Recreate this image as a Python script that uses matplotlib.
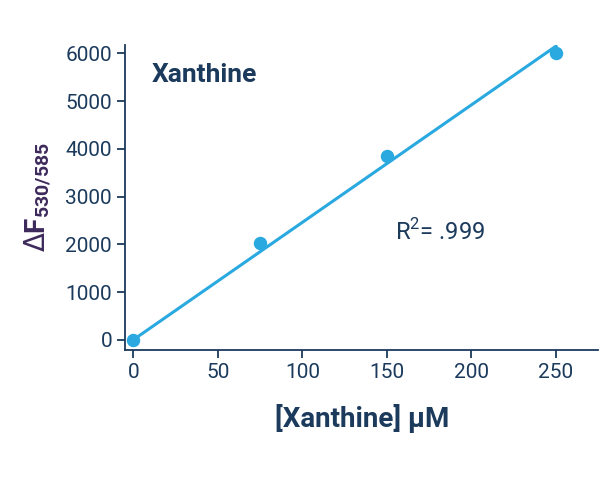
import matplotlib.pyplot as plt
import numpy as np

conc = [0, 75, 150, 250]
signal = [0, 2030, 3850, 6000]
x_ticks = [0, 50, 100, 150, 200, 250]
y_ticks = [0, 1000, 2000, 3000, 4000, 5000, 6000]

navy = '#1b3a5c'
blue = '#29a9e0'
plt.rcParams['font.family'] = ['Roboto', 'DejaVu Sans']

fig = plt.figure(figsize=(6.08, 4.86), dpi=100)
ax = fig.add_axes([0.206, 0.28, 0.778, 0.627])

cx = np.array(conc, dtype=float)
cy = np.array(signal, dtype=float)
slope = (cx * cy).sum() / (cx * cx).sum()
xs = np.array([0, 250])
ax.plot(xs, slope * xs, color=blue, lw=2.2, zorder=2)
ax.scatter(conc, signal, s=75, color=blue, zorder=3, clip_on=False)

ax.set_xlim(-4.7, 275)
ax.set_ylim(-210, 6170)
ax.set_xticks(x_ticks)
ax.set_yticks(y_ticks)
for s in ['top', 'right']:
    ax.spines[s].set_visible(False)
for s in ['left', 'bottom']:
    ax.spines[s].set_color(navy)
    ax.spines[s].set_linewidth(1.3)
ax.tick_params(colors=navy, labelsize=15, width=1.3, length=6)

ax.text(0.055, 0.94, 'Xanthine', transform=ax.transAxes, fontsize=19,
        fontweight='bold', color=navy, va='top')
ax.text(0.57, 0.36, r'R$^{\mathregular{2}}$= .999', transform=ax.transAxes,
        fontsize=17, color=navy)
ax.set_xlabel('[Xanthine] µM', fontsize=20, fontweight='bold', color=navy,
              labelpad=16)
ax.set_ylabel(r'$\Delta$F$_{\mathregular{530/585}}$', fontsize=20,
              fontweight='bold', color='#3d2a5c', labelpad=8)

fig.savefig('out.png', dpi=100)
